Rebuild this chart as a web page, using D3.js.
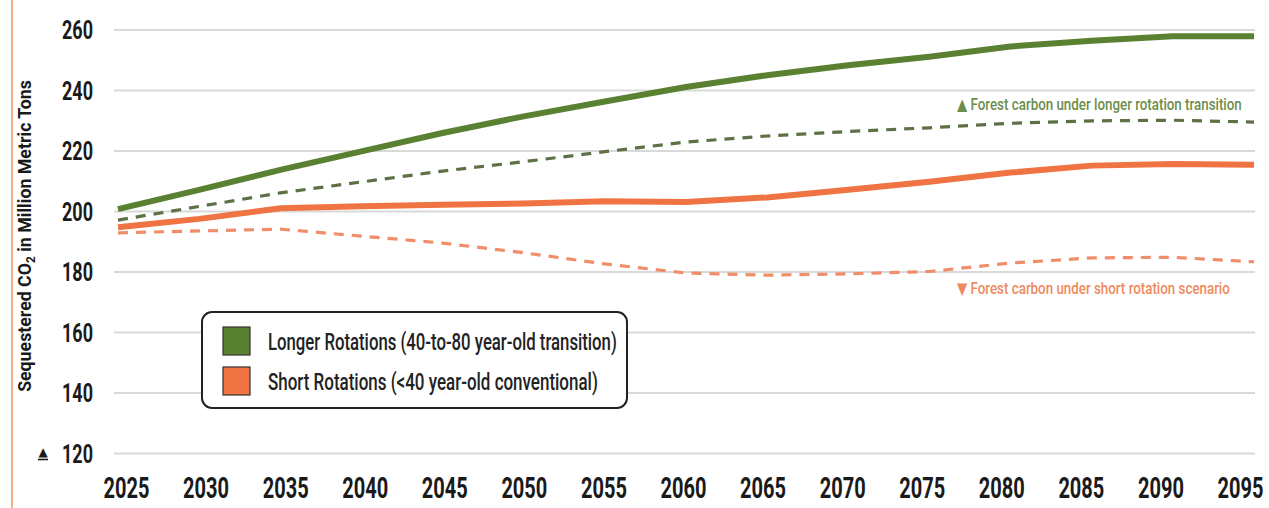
<!DOCTYPE html>
<html><head><meta charset="utf-8">
<script src="https://cdn.jsdelivr.net/npm/d3@7"></script>
<style>
html,body{margin:0;padding:0;background:#fff;}
svg{display:block;font-family:Roboto,"DejaVu Sans",sans-serif;}
</style></head>
<body>
<svg id="chart" width="1269" height="508"></svg>
<script>
const years = [2025,2030,2035,2040,2045,2050,2055,2060,2065,2070,2075,2080,2085,2090,2095];
const longerTotal  = [200.6,207.0,213.6,219.7,225.8,231.3,236.2,241.0,244.9,248.2,251.0,254.4,256.3,257.8,257.8];
const longerForest = [197.0,201.5,206.0,209.6,213.2,216.3,219.6,222.8,224.8,226.3,227.5,229.0,229.8,230.0,229.4];
const shortTotal   = [194.6,197.4,200.9,201.6,202.1,202.5,203.2,203.0,204.5,207.0,209.7,212.7,215.0,215.5,215.3];
const shortForest  = [192.8,193.4,194.0,191.7,189.4,186.2,182.5,179.5,178.8,179.2,180.0,182.8,184.5,184.7,183.2];
const yTicks = [120,140,160,180,200,220,240,260];
const legendLabels = ["Longer Rotations (40-to-80 year-old transition)","Short Rotations (<40 year-old conventional)"];
const annoLonger = "▲ Forest carbon under longer rotation transition";
const annoShort = "▼ Forest carbon under short rotation scenario";

const svg = d3.select("#chart");
const x = d3.scaleLinear().domain([2025,2095]).range([118,1254]);
const xLab = d3.scaleLinear().domain([2025,2095]).range([126,1240]);
const y = d3.scaleLinear().domain([120,260]).range([453,29.5]);

const GREEN="#5a8132", GREEN_D="#5e7046", ORANGE="#f07443", ORANGE_D="#f08e6a";

// compress text horizontally to a target width using a scale transform
function fit(sel, w){
  sel.each(function(){
    const t = d3.select(this);
    const px = +t.attr("x")||0, py = +t.attr("y")||0;
    const len = this.getComputedTextLength();
    const s = w/len;
    t.attr("x",0).attr("y",0).attr("transform",`translate(${px},${py}) scale(${s},1)`);
  });
}

// left orange rule
svg.append("line").attr("x1",12).attr("x2",12).attr("y1",0).attr("y2",508)
  .attr("stroke","#f5ae83").attr("stroke-width",2);

// y axis with gridlines
const yAxis = svg.append("g").attr("transform","translate(114,0)")
  .call(d3.axisLeft(y).tickValues(yTicks).tickSize(-1141).tickPadding(21).tickFormat(d3.format("d")));
yAxis.select(".domain").remove();
yAxis.selectAll(".tick line").attr("stroke","#d9d9d9").attr("stroke-width",2);
yAxis.selectAll(".tick text").attr("fill","#1a1a1a").attr("dy","0.36em")
  .style("font-size","25px").style("font-weight","bold").style("font-family","Roboto,sans-serif")
  .call(fit, 31);

// marker near 120
svg.append("text").attr("x",43).attr("y",y(120)+3).attr("text-anchor","middle")
  .style("font-size","12px").attr("fill","#1a1a1a").style("font-family","DejaVu Sans").text("▲");
svg.append("line").attr("x1",38).attr("x2",48).attr("y1",y(120)+6.5).attr("y2",y(120)+6.5)
  .attr("stroke","#1a1a1a").attr("stroke-width",1.6);

// x axis
const xAxis = svg.append("g").attr("transform","translate(0,471)")
  .call(d3.axisBottom(xLab).tickValues(years).tickSize(0).tickPadding(6).tickFormat(d3.format("d")));
xAxis.select(".domain").remove();
xAxis.selectAll(".tick text").attr("fill","#1a1a1a")
  .style("font-size","29px").style("font-weight","bold").style("font-family","Roboto,sans-serif")
  .call(fit, 46);

// y title
const yt = svg.append("text").attr("transform","translate(31,236) rotate(-90)")
  .attr("text-anchor","middle").attr("fill","#1a1a1a")
  .style("font-size","18px").style("font-weight","bold");
yt.append("tspan").text("Sequestered CO");
yt.append("tspan").attr("dy",4).style("font-size","12px").text("2");
yt.append("tspan").attr("dy",-4).text(" in Million  Metric Tons");
{
  const len = yt.node().getComputedTextLength();
  const s = 312/len;
  yt.attr("transform",`translate(31,236) rotate(-90) scale(${s},1)`);
}

// lines
const line = d3.line().x((d,i)=>x(years[i])).y(d=>y(d));
const series = [
  {v:longerForest, c:GREEN_D, w:3.2, dash:"10,8"},
  {v:shortForest, c:ORANGE_D, w:3.2, dash:"10,8"},
  {v:shortTotal, c:ORANGE, w:6, dash:null},
  {v:longerTotal, c:GREEN, w:6, dash:null}
];
series.forEach(s=>{
  svg.append("path").datum(s.v).attr("d",line).attr("fill","none")
    .attr("stroke",s.c).attr("stroke-width",s.w)
    .attr("stroke-dasharray",s.dash).attr("stroke-linejoin","round");
});

// annotations
svg.append("text").attr("x",957).attr("y",110).attr("fill","#6d8d4b")
  .style("font-size","16.5px").style("font-weight","500").text(annoLonger).call(fit,285);
svg.append("text").attr("x",957).attr("y",294).attr("fill","#f08a5e")
  .style("font-size","16.5px").style("font-weight","500").text(annoShort).call(fit,273);

// legend
const lg = svg.append("g");
lg.append("rect").attr("x",202).attr("y",312).attr("width",425).attr("height",96).attr("rx",10)
  .attr("fill","#fff").attr("stroke","#222").attr("stroke-width",2);
const legCols=[GREEN, ORANGE];
const legW=[349,330];
legendLabels.forEach((t,i)=>{
  lg.append("rect").attr("x",223).attr("y",327+i*40).attr("width",27).attr("height",28)
    .attr("fill",legCols[i]).attr("stroke","#333").attr("stroke-width",1.2);
  lg.append("text").attr("x",268).attr("y",350+i*40).attr("fill","#222")
    .style("font-size","23px").style("font-weight","500").text(t).call(fit,legW[i]);
});
</script>
</body></html>
